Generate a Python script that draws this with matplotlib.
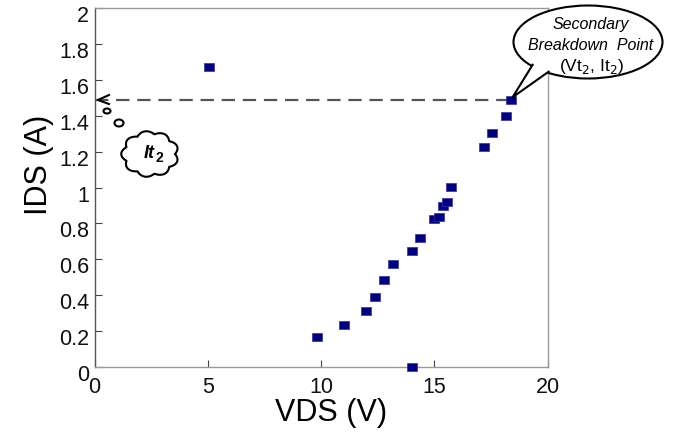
import matplotlib
matplotlib.use('Agg')
import matplotlib.pyplot as plt
import numpy as np
from matplotlib.patches import Ellipse, Polygon
from matplotlib.ticker import FuncFormatter
import matplotlib.transforms as mtransforms

plt.rcParams['font.family'] = ['Liberation Sans', 'DejaVu Sans']

# measured points (VDS in V, IDS in A)
vds = [5.07, 9.84, 11.02, 11.96, 12.38, 12.77, 13.18, 13.99, 14.37, 15.0,
       15.21, 15.37, 15.56, 15.74, 17.17, 17.56, 18.18, 18.36, 13.99]
ids = [1.671, 0.167, 0.236, 0.312, 0.39, 0.486, 0.572, 0.646, 0.717, 0.823,
       0.834, 0.898, 0.917, 1.005, 1.227, 1.304, 1.40, 1.486, 0.0]

vt2 = 18.36
it2 = 1.486

x_ticks = [0, 5, 10, 15, 20]
y_ticks = [0, 0.2, 0.4, 0.6, 0.8, 1, 1.2, 1.4, 1.6, 1.8, 2]

W, H = 676, 441
fig = plt.figure(figsize=(W/100, H/100), dpi=100)
ax = fig.add_axes([94.5/W, 1-367/H, (547.7-94.5)/W, (367-8)/H])

def px(x, y):  # pixel -> figure fraction
    return (x/W, 1-y/H)

# rectangle marker, a bit wider than tall
rect = [(-1, -0.78), (1, -0.78), (1, 0.78), (-1, 0.78), (-1, -0.78)]
ax.plot(vds, ids, linestyle='none', marker=rect, markersize=7.2,
        color='#000080', markeredgecolor='#3030a8', markeredgewidth=0.5,
        zorder=5, clip_on=False)

# dashed line at It2
ax.plot([0, vt2], [it2, it2], color='#555555', lw=1.6, dashes=(6, 3.5), zorder=3)

ax.set_xlim(0, 20)
ax.set_ylim(0, 2)
ax.set_xticks(x_ticks)
ax.set_yticks(y_ticks)
ax.yaxis.set_major_formatter(FuncFormatter(lambda v, p: '%g' % v))
ax.tick_params(direction='in', length=5, color='#444444', labelsize=15.5,
               labelcolor='#111111')
ax.tick_params(axis='x', pad=7)
ax.tick_params(axis='y', pad=4)
off = mtransforms.ScaledTranslation(0, -0.06, fig.dpi_scale_trans)
for lab in ax.get_yticklabels():
    lab.set_transform(lab.get_transform() + off)
for side in ['top', 'right', 'bottom']:
    ax.spines[side].set_color('#999999')
ax.spines['left'].set_color('#555555')
for s in ax.spines.values():
    s.set_linewidth(1.0)

fig.text(*px(331, 413), 'VDS (V)', fontsize=22, ha='center', va='center')
fig.text(*px(39, 165), 'IDS (A)', fontsize=22, ha='center', va='center',
         rotation=90)

# thought cloud with It2
cx, cy, a, b = 150, 154, 25, 20
th = np.linspace(0, 2*np.pi, 400)
r = 1 + 0.15*np.abs(np.sin(4.5*th))
cloud = [px(cx + a*r[i]*np.cos(th[i]), cy + b*r[i]*np.sin(th[i])) for i in range(len(th))]
fig.patches.append(Polygon(cloud, closed=True, transform=fig.transFigure,
                           facecolor='white', edgecolor='black', lw=1.5, zorder=6))
fig.patches.append(Ellipse(px(119, 123), 9/W, 7/H, transform=fig.transFigure,
                           facecolor='white', edgecolor='black', lw=1.5, zorder=6))
fig.patches.append(Ellipse(px(107, 111), 7/W, 5/H, transform=fig.transFigure,
                           facecolor='white', edgecolor='black', lw=1.5, zorder=6))
tip = [px(109, 95), px(98, 100), px(109, 104)]
fig.lines.append(plt.Line2D([p[0] for p in tip], [p[1] for p in tip],
                            transform=fig.transFigure, color='black', lw=1.5, zorder=6))
fig.text(*px(155, 153), 'It', fontsize=13, style='italic', fontweight='bold',
         ha='right', va='center', zorder=7)
fig.text(*px(156, 158), '2', fontsize=10, fontweight='bold',
         ha='left', va='center', zorder=7)

# speech bubble for secondary breakdown point
ex, ey, ea, eb = 588, 42, 74.5, 36.5
fig.patches.append(Ellipse(px(ex, ey), 2*ea/W, 2*eb/H, transform=fig.transFigure,
                           facecolor='white', edgecolor='black', lw=1.5, zorder=6))
fig.canvas.draw()
tx, ty = fig.transFigure.inverted().transform(ax.transData.transform((vt2, it2)))
tx, ty = tx + 2/W, ty + 3/H
p1 = px(ex + 0.97*ea*np.cos(np.radians(140)), ey + 0.97*eb*np.sin(np.radians(140)))
p2 = px(ex + 0.97*ea*np.cos(np.radians(123)), ey + 0.97*eb*np.sin(np.radians(123)))
fig.patches.append(Polygon([p1, (tx, ty), p2], closed=True, transform=fig.transFigure,
                           facecolor='white', edgecolor='none', zorder=6.5))
fig.lines.append(plt.Line2D([p1[0], tx, p2[0]], [p1[1], ty, p2[1]],
                            transform=fig.transFigure, color='black', lw=1.5, zorder=6.6))
fig.text(*px(591, 24), 'Secondary', fontsize=11.5, style='italic',
         ha='center', va='center', zorder=7)
fig.text(*px(591, 45), 'Breakdown  Point', fontsize=11.5, style='italic',
         ha='center', va='center', zorder=7)
fig.text(*px(592, 67), r'(Vt$_2$, It$_2$)', fontsize=12.5,
         ha='center', va='center', zorder=7)

fig.savefig('out.png', dpi=100)
